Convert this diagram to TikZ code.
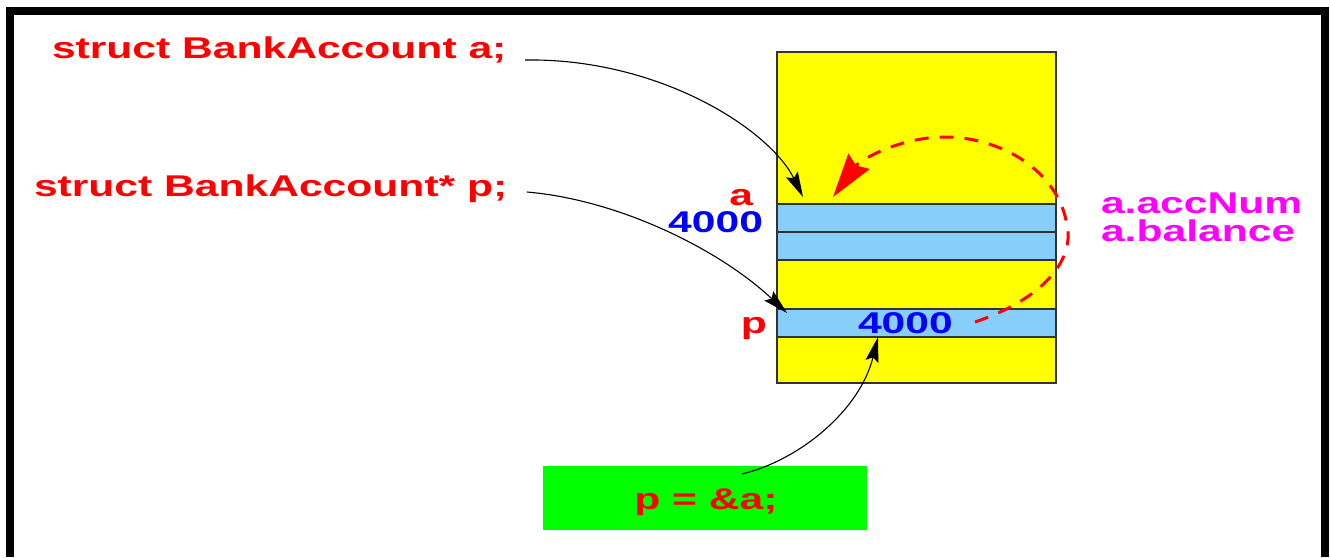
\documentclass[tikz,border=0pt]{standalone}
\usepackage{fontspec}
\newfontfamily\lab[FakeStretch=1.42]{Liberation Sans}
\usetikzlibrary{arrows.meta}
\definecolor{rowblue}{RGB}{135,206,250}
\definecolor{boxline}{RGB}{50,50,50}
\definecolor{pureyellow}{RGB}{255,255,0}
\definecolor{puremagenta}{RGB}{255,0,255}
\definecolor{puregreen}{RGB}{0,255,0}
\definecolor{purered}{RGB}{255,0,0}
\definecolor{pureblue}{RGB}{0,0,255}
\begin{document}
\begin{tikzpicture}[x=1pt,y=-1pt,
  txt/.style={font=\lab\bfseries\fontsize{30}{36}\selectfont, inner sep=0pt, outer sep=0pt},
  redtxt/.style={txt, text=purered},
  bluetxt/.style={txt, text=pureblue},
  magtxt/.style={txt, text=puremagenta},
  membox/.style={draw=boxline, line width=1.5pt, fill=pureyellow, inner sep=0pt, outer sep=0pt, minimum width=279pt, anchor=north west},
  rowbox/.style={draw=boxline, line width=1.5pt, fill=rowblue, inner sep=0pt, outer sep=0pt, minimum width=279pt, minimum height=28pt, anchor=north west},
  ptr/.style={line width=1.1pt, -{Stealth[length=25pt,width=13pt,inset=4pt]}},
  redloop/.style={purered, line width=3pt, dash pattern=on 14pt off 11pt, -{Stealth[length=44pt,width=26pt,inset=5pt]}},
  frameline/.style={line width=8pt}
]
\useasboundingbox (0,0) rectangle (1330,557);
\fill[white] (0,0) rectangle (1330,557);
% frame
\draw[frameline] (10,557) -- (10,11) -- (1325,11) -- (1325,557);

% memory block
\node[membox, minimum height=331pt] (mem) at (777,52) {};
\node[rowbox] (acc) at (777,204) {};
\node[rowbox] (bal) at (777,232) {};
\node[rowbox] (prow) at (777,309) {};

% labels
\node[redtxt, anchor=base west] (la) at (52,58) {struct BankAccount a;};
\node[redtxt, anchor=base west] (lp) at (34,196) {struct BankAccount* p;};
\node[redtxt, anchor=base east, text depth=0pt] (aname) at (753,205) {a};
\node[bluetxt, anchor=base east, text height=21pt] (aaddr) at (763,232) {4000};
\node[redtxt, anchor=base east] (pname) at (767,333) {p};
\node[bluetxt, anchor=base west] (pval) at (858,333) {4000};
\node[magtxt, anchor=base west, text depth=0pt] (accnum) at (1101,213) {a.accNum};
\node[magtxt, anchor=base west, text height=21pt] (balance) at (1101,241) {a.balance};

% assignment box
\node[fill=puregreen, inner sep=0pt, outer sep=0pt, minimum width=324pt, minimum height=64pt, anchor=north west] (gbox) at (543,466) {};
\node[redtxt, anchor=base] (assign) at (706,509) {p = \&a;};

% connector end points
\coordinate (s1) at (525,60);
\coordinate (e1) at (803,197);
\coordinate (s2) at (527,192);
\coordinate (e2) at (787,313);
\coordinate (s3) at (742,474);
\coordinate (e3) at (878,337);
\coordinate (rs) at (975,322);
\coordinate (rright) at (1067,225);
\coordinate (rtop) at (945,137);
\coordinate (re) at (833,197);

\draw[ptr] (s1) .. controls (660,58) and (770,130) .. (e1);
\draw[ptr] (s2) .. controls (620,200) and (720,250) .. (e2);
\draw[ptr] (s3) .. controls (800,460) and (860,410) .. (e3);

\draw[redloop] (rs) .. controls (1040,300) and (1075,262) .. (rright)
  .. controls (1058,170) and (1000,137) .. (rtop)
  .. controls (900,137) and (860,160) .. (re);
\end{tikzpicture}
\end{document}
